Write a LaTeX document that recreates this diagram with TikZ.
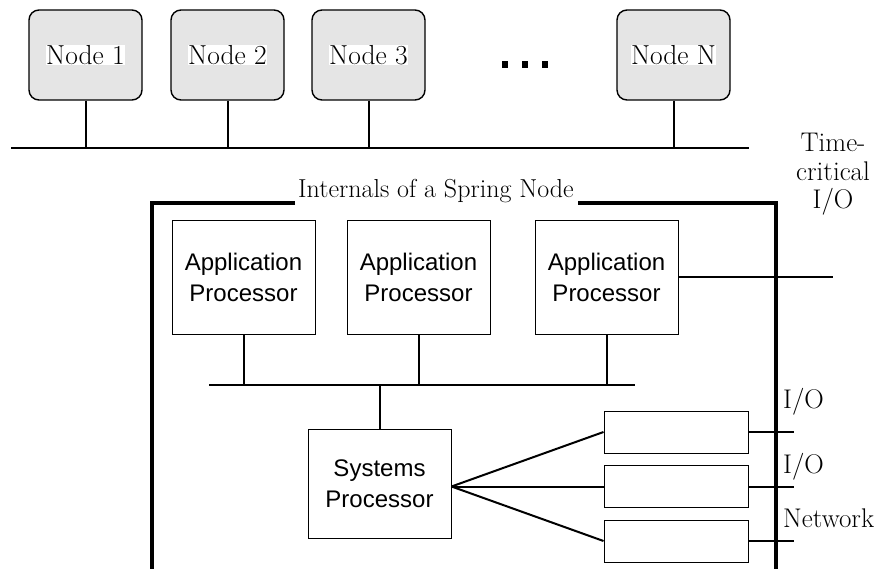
\documentclass[tikz,border=0pt]{standalone}
\usepackage{fontspec}
\setsansfont{Liberation Sans}
\usetikzlibrary{calc}
\setlength{\fboxsep}{0pt}
\newcommand{\nodetext}[1]{\colorbox{white}{#1}}

\begin{document}
\begin{tikzpicture}[x=1pt,y=-1pt,
	netnode/.style={draw,line width=1.4pt,rounded corners=10pt,fill=black!10,
		minimum width=113pt,minimum height=90pt,inner sep=0pt,
		font=\fontsize{27.5}{30}\selectfont},
	procbox/.style={draw,line width=1pt,minimum width=143pt,minimum height=114pt,
		align=center,inner sep=0pt,font=\sffamily\fontsize{24}{31}\selectfont},
	iobox/.style={draw,line width=1pt,minimum width=144pt,minimum height=42pt,inner sep=0pt},
	wire/.style={line width=2pt},
	frame/.style={line width=4pt},
	lbl/.style={font=\fontsize{27}{28}\selectfont,inner sep=0pt,align=center}]
	\useasboundingbox (0,0) rectangle (882,569);

	% the network
	\node[netnode] (n1) at (85.5,55) {\nodetext{Node 1}};
	\node[netnode] (n2) at (227.5,55) {\nodetext{Node 2}};
	\node[netnode] (n3) at (368.5,55) {\nodetext{Node 3}};
	\node[netnode] (nN) at (673.5,55) {\nodetext{Node N}};
	\foreach \x in {505,525,545}
		\fill (\x-3,61) rectangle (\x+3,68);

	\coordinate (busL) at (11,148);
	\coordinate (busR) at (749,148);
	\draw[wire] (busL) -- (busR);
	\foreach \n in {n1,n2,n3,nN}
		\draw[wire] (\n.south) -- (\n.south |- busL);

	\node[lbl,anchor=base] (tc) at (833,208) {Time-\\critical\\I/O};

	% internals of one node
	\node[lbl,anchor=base,font=\fontsize{26}{28}\selectfont] (spring) at (436,198) {Internals of a Spring Node};
	\draw[frame] (295,203) -- (152,203) -- (152,569);
	\draw[frame] (578,203) -- (776,203) -- (776,569);

	\node[procbox] (ap1) at (243.5,277) {Application\\Processor};
	\node[procbox] (ap2) at (418.5,277) {Application\\Processor};
	\node[procbox] (ap3) at (606.5,277) {Application\\Processor};

	\coordinate (ibusL) at (209,385);
	\coordinate (ibusR) at (635,385);
	\draw[wire] (ibusL) -- (ibusR);
	\foreach \n in {ap1,ap2,ap3}
		\draw[wire] (\n.south) -- (\n.south |- ibusL);

	\coordinate (tcEnd) at (833,277);
	\draw[wire] (ap3.east) -- (tcEnd);

	\node[procbox,minimum height=109pt] (sp) at (379.5,483.5) {Systems\\Processor};
	\draw[wire] (sp.north) -- (sp.north |- ibusL);
	\coordinate (fan) at ($(sp.east)+(0,3)$);

	\node[iobox] (io1) at (676,432) {};
	\node[iobox] (io2) at (676,486.5) {};
	\node[iobox] (io3) at (676,541) {};
	\foreach \n in {io1,io2,io3} {
		\draw[wire] (fan) -- (\n.west);
		\draw[wire] (\n.east) -- ++(45,0) coordinate (\n-end);
	}

	\node[lbl,anchor=base west] (l1) at (783,408) {I/O};
	\node[lbl,anchor=base west] (l2) at (783,473) {I/O};
	\node[lbl,anchor=base west] (l3) at (783,527) {Network};
\end{tikzpicture}
\end{document}
